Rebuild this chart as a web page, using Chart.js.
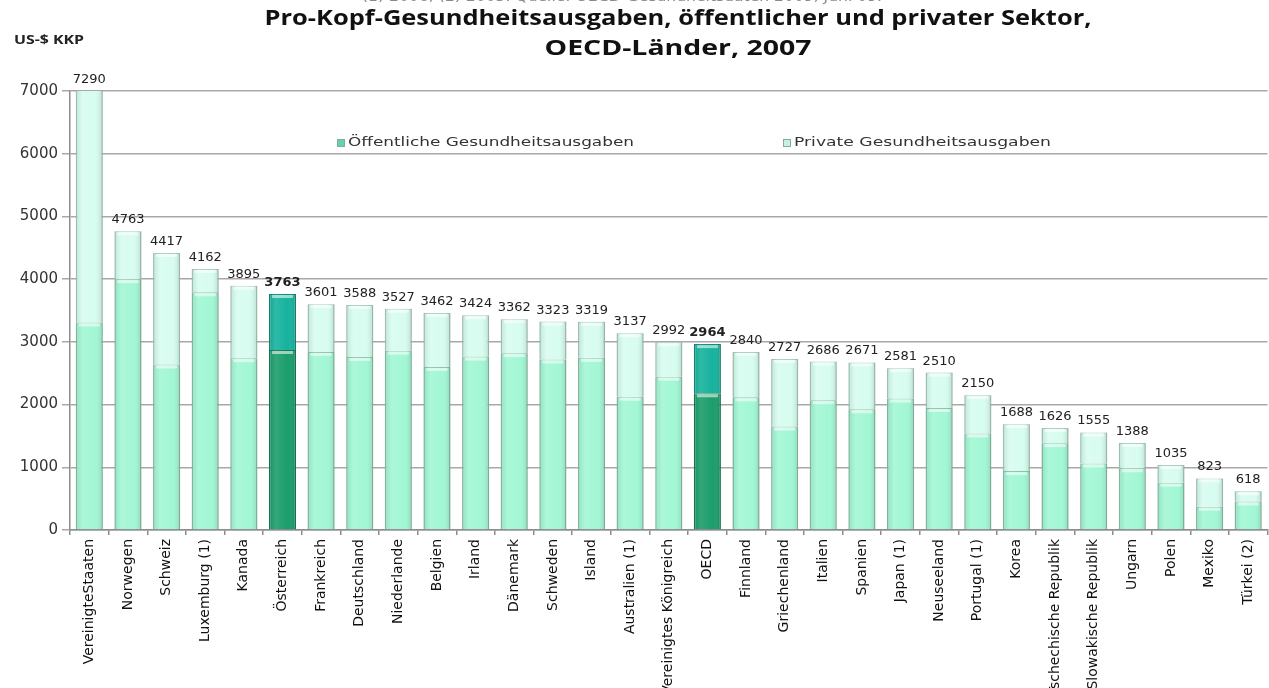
<!DOCTYPE html>
<html>
<head>
<meta charset="utf-8">
<script src="https://cdn.jsdelivr.net/npm/chart.js@4.4.0/dist/chart.umd.min.js"></script>
<style>
  html, body { margin: 0; padding: 0; background: #fff; }
  #wrap { position: relative; width: 1269px; height: 688px; }
</style>
</head>
<body>
<div id="wrap"><canvas id="healthChart" width="1269" height="688"></canvas></div>
<script>
const countries = ["VereinigteStaaten", "Norwegen", "Schweiz", "Luxemburg (1)", "Kanada", "Österreich", "Frankreich", "Deutschland", "Niederlande", "Belgien", "Irland", "Dänemark", "Schweden", "Island", "Australien (1)", "Vereinigtes Königreich", "OECD", "Finnland", "Griechenland", "Italien", "Spanien", "Japan (1)", "Neuseeland", "Portugal (1)", "Korea", "Tschechische Republik", "Slowakische Republik", "Ungarn", "Polen", "Mexiko", "Türkei (2)"];
const totalValues = [7290, 4763, 4417, 4162, 3895, 3763, 3601, 3588, 3527, 3462, 3424, 3362, 3323, 3319, 3137, 2992, 2964, 2840, 2727, 2686, 2671, 2581, 2510, 2150, 1688, 1626, 1555, 1388, 1035, 823, 618];
const publicValues = [3310, 4000, 2640, 3790, 2740, 2870, 2840, 2760, 2860, 2600, 2765, 2820, 2720, 2745, 2125, 2445, 2180, 2115, 1650, 2070, 1925, 2095, 1945, 1540, 940, 1385, 1060, 985, 755, 372, 455];
const privateValues = [3980, 763, 1777, 372, 1155, 893, 761, 828, 667, 862, 659, 542, 603, 574, 1012, 547, 784, 725, 1077, 616, 746, 486, 565, 610, 748, 241, 495, 403, 280, 451, 163];
const yTicks = [0, 1000, 2000, 3000, 4000, 5000, 6000, 7000];
const highlighted = ["Österreich", "OECD"];

const isHi = ctx => highlighted.includes(countries[ctx.dataIndex]);
const textColor = "#333333";

// draw text stretched horizontally so it covers a given width
const fitText = (ctx, text, x, y, width, align) => {
    const w = ctx.measureText(text).width;
    const sx = width / w;
    const left = align === "center" ? x - width / 2 : x;
    ctx.save();
    ctx.textAlign = "left";
    ctx.translate(left, y);
    ctx.scale(sx, 1);
    ctx.fillText(text, 0, 0);
    ctx.restore();
};

const overlayPlugin = {
    id: "overlay",
    afterDatasetsDraw(chart) {
        // soft shading on each bar segment
        const { ctx, chartArea } = chart;
        ctx.save();
        ctx.beginPath();
        ctx.rect(chartArea.left, chartArea.top, chartArea.width, chartArea.height);
        ctx.clip();
        chart.data.datasets.forEach((ds, d) => {
            chart.getDatasetMeta(d).data.forEach(bar => {
                const left = bar.x - bar.width / 2;
                const top = Math.min(bar.y, bar.base);
                const h = Math.abs(bar.base - bar.y);
                const g = ctx.createLinearGradient(left, 0, left + bar.width, 0);
                g.addColorStop(0, "rgba(0,40,20,0.10)");
                g.addColorStop(0.25, "rgba(255,255,255,0.10)");
                g.addColorStop(0.7, "rgba(255,255,255,0)");
                g.addColorStop(1, "rgba(0,40,20,0.16)");
                ctx.fillStyle = g;
                ctx.fillRect(left, top, bar.width, h);
                ctx.fillStyle = "rgba(255,255,255,0.55)";
                ctx.fillRect(left + 3, top + 1, bar.width - 6, Math.min(3, h));
            });
        });
        ctx.restore();
    },
    afterDraw(chart) {
        const { ctx, chartArea } = chart;
        ctx.save();

        // cut-off footnote at the very top
        ctx.fillStyle = "#8a8a8a";
        ctx.font = "13px 'DejaVu Sans', sans-serif";
        ctx.textBaseline = "alphabetic";
        fitText(ctx, "(1) 2006; (2) 2005. Quelle: OECD-Gesundheitsdaten 2009, Juni 09.", 362, 1, 520, "left");

        // title
        ctx.textBaseline = "middle";
        ctx.fillStyle = "#111111";
        ctx.font = "bold 22px 'Open Sans', sans-serif";
        fitText(ctx, "Pro-Kopf-Gesundheitsausgaben, öffentlicher und privater Sektor,", 678, 19, 827, "center");
        fitText(ctx, "OECD-Länder, 2007", 678, 49, 267, "center");

        // unit label
        ctx.font = "bold 13px 'Open Sans', sans-serif";
        ctx.fillStyle = "#222222";
        fitText(ctx, "US-$ KKP", 14, 40, 70, "left");

        // legend inside plot
        const legendItems = [
            { x: 337, text: "Öffentliche Gesundheitsausgaben", fill: "#5fd6a8", width: 286 },
            { x: 783, text: "Private Gesundheitsausgaben", fill: "#c4f2e2", width: 257 }
        ];
        ctx.font = "13px 'DejaVu Sans', sans-serif";
        legendItems.forEach(item => {
            ctx.fillStyle = item.fill;
            ctx.fillRect(item.x, 139, 8, 8);
            ctx.strokeStyle = "#8aa89c";
            ctx.lineWidth = 1;
            ctx.strokeRect(item.x + 0.5, 139.5, 7, 7);
            ctx.fillStyle = textColor;
            fitText(ctx, item.text, item.x + 11, 143, item.width, "left");
        });

        // total labels above stacks
        const meta = chart.getDatasetMeta(1);
        ctx.textAlign = "center";
        ctx.textBaseline = "alphabetic";
        meta.data.forEach((bar, i) => {
            const top = Math.max(bar.y, chartArea.top);
            const hi = highlighted.includes(countries[i]);
            ctx.font = (hi ? "bold " : "") + "13px 'DejaVu Sans', sans-serif";
            ctx.fillStyle = "#222222";
            ctx.fillText(String(totalValues[i]), bar.x, top - 8);
        });
        ctx.restore();
    }
};

new Chart(document.getElementById("healthChart"), {
    type: "bar",
    data: {
        labels: countries,
        datasets: [
            {
                label: "Öffentliche Gesundheitsausgaben",
                data: publicValues,
                backgroundColor: ctx => isHi(ctx) ? "#1b9d6b" : "#a2f7d5",
                borderColor: ctx => isHi(ctx) ? "#137a52" : "#8cc2ac",
                borderWidth: { left: 1.5, right: 1.5, top: 1, bottom: 0 },
                borderSkipped: false,
                barPercentage: 0.7,
                categoryPercentage: 1
            },
            {
                label: "Private Gesundheitsausgaben",
                data: privateValues,
                backgroundColor: ctx => isHi(ctx) ? "#16b29d" : "#d7fcf0",
                borderColor: ctx => isHi(ctx) ? "#0f8a7a" : "#adcdc1",
                borderWidth: { left: 1.5, right: 1.5, top: 1, bottom: 0 },
                borderSkipped: false,
                barPercentage: 0.7,
                categoryPercentage: 1
            }
        ]
    },
    options: {
        responsive: false,
        animation: false,
        layout: { padding: { top: 91, right: 0, left: 0, bottom: 0 } },
        plugins: {
            legend: { display: false },
            tooltip: { enabled: false },
            title: { display: false }
        },
        scales: {
            x: {
                stacked: true,
                afterFit: scale => { scale.height = 158; },
                grid: {
                    offset: true,
                    drawOnChartArea: false,
                    tickLength: 5,
                    color: "#8c8c8c",
                    lineWidth: 1.5
                },
                border: { color: "#8c8c8c", width: 1.5 },
                ticks: {
                    autoSkip: false,
                    minRotation: 90,
                    maxRotation: 90,
                    padding: 4,
                    color: "#111111",
                    font: { family: "'DejaVu Sans', sans-serif", size: 14 }
                }
            },
            y: {
                stacked: true,
                min: 0,
                max: 7000,
                afterFit: scale => { scale.width = 70; },
                afterBuildTicks: scale => { scale.ticks = yTicks.map(v => ({ value: v })); },
                grid: {
                    color: "#a8a8a8",
                    lineWidth: 1.5,
                    tickLength: 8
                },
                border: { color: "#8c8c8c", width: 1.5 },
                ticks: {
                    padding: 4,
                    color: textColor,
                    callback: value => String(value),
                    font: { family: "'DejaVu Sans', sans-serif", size: 15 }
                }
            }
        }
    },
    plugins: [overlayPlugin]
});
</script>
</body>
</html>
